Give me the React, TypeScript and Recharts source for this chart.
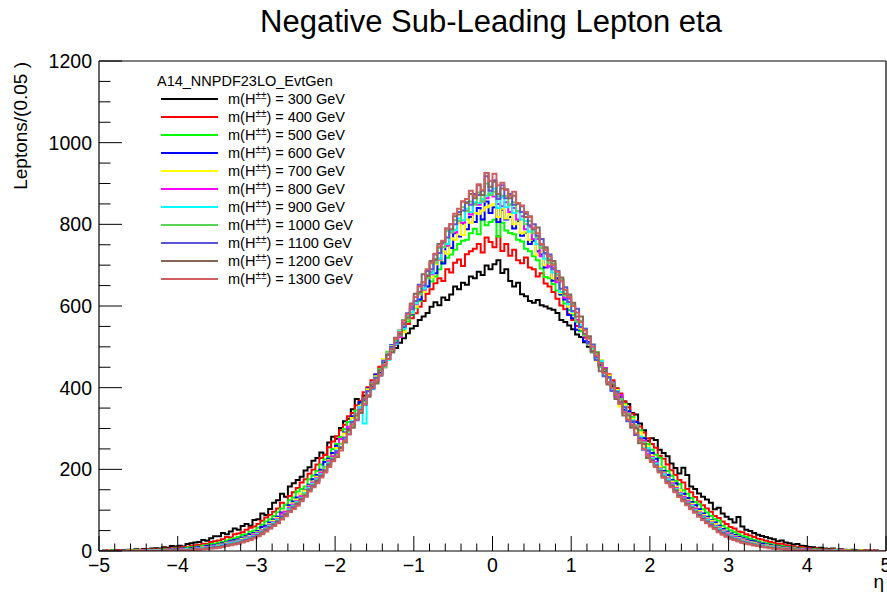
import React from 'react'
import { LineChart, Line, XAxis, YAxis, Legend } from 'recharts'

// Negative sub-leading lepton eta, 200 bins of 0.05 from -5 to 5
const etaMin = -5
const binWidth = 0.05

const massPoints = ['300', '400', '500', '600', '700', '800', '900', '1000', '1100', '1200', '1300']
const lineColors = [
  '#000000', '#ff0000', '#00ff00', '#0000ff', '#ffff00', '#ff00ff',
  '#00ffff', '#59d454', '#5954d9', '#876656', '#cf5e61'
]

const m300 = [
  0, 1, 0, 1, 2, 1, 2, 3, 2, 4, 3, 5, 4, 6, 7, 6, 9, 8, 12, 11,
  13, 11, 17, 19, 21, 22, 27, 25, 31, 36, 36, 44, 41, 48, 55, 52, 61, 66, 62, 76,
  78, 92, 88, 103, 118, 124, 140, 133, 158, 166, 174, 182, 197, 205, 221, 228, 241, 236, 266, 280,
  275, 301, 318, 324, 347, 372, 352, 381, 398, 410, 427, 433, 462, 470, 488, 497, 510, 521, 533, 545,
  551, 566, 574, 583, 598, 609, 602, 621, 615, 628, 648, 641, 657, 652, 672, 668, 684, 676, 699, 690,
  702, 712, 681, 690, 661, 648, 657, 629, 624, 612, 608, 615, 602, 599, 594, 591, 583, 566, 561, 552,
  543, 530, 524, 511, 500, 487, 470, 455, 438, 425, 404, 398, 379, 366, 360, 338, 334, 312, 296, 270,
  276, 272, 248, 240, 232, 214, 203, 190, 204, 186, 158, 152, 141, 133, 126, 118, 102, 106, 92, 84,
  78, 70, 83, 60, 52, 49, 44, 40, 37, 34, 31, 29, 24, 26, 21, 19, 16, 17, 13, 12,
  10, 9, 7, 8, 6, 5, 6, 3, 4, 3, 2, 3, 1, 2, 1, 1, 0, 1, 0, 0
]
const m400 = [
  0, 0, 1, 0, 1, 1, 2, 1, 2, 2, 2, 3, 4, 3, 4, 4, 6, 5, 7, 8,
  8, 10, 9, 13, 14, 15, 18, 17, 22, 24, 26, 29, 34, 33, 41, 43, 46, 52, 57, 60,
  66, 74, 82, 88, 96, 104, 118, 113, 135, 144, 154, 168, 176, 189, 199, 212, 228, 235, 254, 268,
  281, 296, 309, 330, 338, 357, 368, 389, 401, 418, 432, 451, 465, 480, 498, 512, 527, 540, 556, 570,
  582, 598, 612, 630, 641, 656, 668, 661, 690, 682, 706, 714, 698, 727, 734, 740, 752, 731, 768, 757,
  744, 771, 735, 752, 723, 738, 712, 705, 719, 694, 690, 672, 680, 655, 648, 634, 618, 601, 592, 580,
  566, 551, 539, 522, 510, 497, 478, 466, 446, 433, 418, 398, 386, 366, 352, 336, 318, 305, 290, 276,
  262, 253, 233, 226, 212, 198, 186, 174, 168, 152, 144, 132, 121, 112, 104, 96, 86, 81, 72, 66,
  59, 55, 48, 46, 41, 38, 34, 30, 28, 25, 22, 20, 17, 18, 14, 13, 11, 9, 10, 7,
  7, 5, 6, 4, 4, 3, 4, 2, 3, 2, 2, 1, 1, 2, 1, 0, 1, 0, 0, 0
]
const m500 = [
  0, 0, 0, 1, 0, 0, 1, 0, 1, 1, 1, 2, 2, 3, 2, 3, 4, 3, 5, 6,
  5, 7, 8, 9, 10, 11, 13, 14, 17, 18, 20, 22, 26, 28, 31, 34, 39, 41, 47, 50,
  57, 64, 72, 78, 86, 95, 104, 113, 124, 131, 146, 152, 158, 176, 185, 196, 212, 224, 231, 250,
  262, 279, 299, 316, 328, 344, 361, 372, 396, 412, 428, 446, 470, 481, 498, 514, 528, 541, 562, 578,
  596, 612, 635, 648, 660, 672, 690, 708, 718, 726, 738, 752, 760, 762, 778, 789, 776, 812, 798, 806,
  811, 770, 804, 785, 779, 776, 762, 758, 740, 734, 722, 712, 692, 671, 668, 654, 638, 628, 606, 590,
  578, 560, 538, 528, 512, 496, 487, 462, 444, 428, 412, 394, 381, 360, 342, 328, 303, 296, 278, 262,
  248, 236, 228, 206, 196, 184, 172, 164, 149, 140, 130, 120, 114, 102, 94, 86, 78, 74, 62, 56,
  50, 46, 41, 37, 34, 30, 27, 24, 21, 19, 17, 15, 13, 12, 10, 9, 8, 7, 6, 5,
  5, 4, 4, 3, 3, 2, 3, 2, 1, 1, 1, 1, 0, 1, 0, 0, 0, 0, 0, 0
]
const m600 = [
  0, 0, 0, 0, 0, 0, 1, 0, 0, 1, 1, 1, 2, 1, 2, 2, 3, 3, 4, 4,
  4, 6, 5, 7, 8, 9, 10, 12, 13, 15, 16, 19, 21, 24, 27, 29, 33, 36, 41, 44,
  49, 59, 62, 70, 77, 84, 94, 98, 112, 121, 131, 139, 150, 162, 176, 186, 199, 218, 226, 240,
  258, 262, 290, 298, 330, 332, 364, 370, 398, 402, 432, 436, 466, 470, 504, 506, 540, 548, 574, 580,
  612, 616, 642, 648, 682, 680, 716, 704, 748, 742, 778, 770, 802, 788, 818, 806, 840, 812, 856, 828,
  842, 806, 836, 812, 818, 790, 808, 772, 780, 752, 760, 734, 726, 694, 698, 662, 668, 628, 616, 578,
  570, 542, 548, 514, 512, 490, 476, 454, 448, 414, 412, 384, 374, 346, 342, 316, 316, 280, 276, 246,
  240, 226, 206, 196, 186, 174, 166, 150, 140, 130, 120, 112, 102, 92, 84, 76, 70, 62, 54, 48,
  43, 39, 35, 31, 28, 25, 23, 20, 18, 16, 14, 12, 11, 10, 8, 8, 7, 6, 5, 4,
  4, 3, 3, 2, 2, 2, 1, 2, 1, 1, 1, 0, 1, 0, 0, 0, 0, 0, 0, 0
]
const m700 = [
  0, 0, 0, 0, 0, 0, 0, 1, 0, 1, 1, 1, 1, 2, 2, 2, 2, 3, 3, 3,
  3, 4, 5, 5, 6, 7, 9, 10, 11, 13, 14, 16, 19, 21, 23, 26, 30, 33, 37, 41,
  46, 52, 57, 66, 74, 81, 90, 98, 108, 117, 126, 140, 148, 160, 170, 182, 194, 203, 222, 234,
  252, 264, 288, 292, 326, 328, 356, 358, 396, 398, 428, 432, 470, 468, 502, 508, 540, 536, 576, 582,
  598, 628, 634, 668, 670, 702, 712, 734, 728, 766, 762, 803, 774, 812, 804, 828, 826, 834, 842, 846,
  850, 818, 838, 814, 826, 800, 811, 778, 782, 762, 764, 725, 732, 700, 702, 668, 675, 632, 630, 598,
  582, 583, 544, 542, 506, 506, 466, 468, 434, 430, 396, 394, 354, 358, 326, 324, 298, 290, 256, 256,
  234, 216, 206, 192, 180, 170, 158, 150, 134, 124, 116, 106, 98, 88, 80, 74, 66, 58, 50, 45,
  40, 36, 32, 28, 25, 22, 20, 18, 15, 14, 12, 11, 9, 8, 7, 6, 6, 5, 4, 3,
  3, 3, 2, 2, 2, 2, 1, 1, 1, 1, 1, 0, 0, 1, 0, 0, 0, 0, 0, 0
]
const m800 = [
  0, 0, 0, 0, 0, 0, 0, 0, 0, 0, 0, 1, 0, 1, 1, 1, 2, 2, 3, 3,
  3, 4, 5, 5, 6, 7, 8, 9, 11, 12, 13, 15, 17, 20, 22, 24, 27, 31, 35, 39,
  44, 50, 57, 64, 71, 78, 92, 96, 106, 114, 122, 134, 141, 158, 168, 178, 192, 206, 220, 232,
  240, 274, 274, 304, 310, 336, 352, 372, 382, 412, 414, 444, 450, 482, 490, 520, 524, 558, 580, 598,
  604, 630, 640, 672, 678, 712, 714, 753, 748, 780, 780, 808, 804, 834, 824, 850, 848, 856, 864, 872,
  868, 850, 844, 854, 830, 840, 812, 820, 788, 794, 764, 764, 722, 728, 696, 694, 658, 663, 620, 618,
  600, 566, 562, 526, 524, 490, 478, 452, 448, 412, 412, 378, 382, 340, 338, 306, 304, 272, 270, 238,
  230, 218, 202, 190, 178, 166, 154, 142, 132, 122, 112, 104, 94, 86, 78, 70, 62, 56, 48, 43,
  38, 34, 30, 26, 23, 21, 18, 16, 14, 13, 11, 10, 8, 7, 6, 6, 5, 4, 4, 3,
  3, 2, 2, 1, 1, 1, 1, 0, 1, 0, 0, 0, 0, 0, 0, 0, 0, 0, 0, 0
]
const m900 = [
  0, 0, 0, 0, 0, 0, 0, 0, 0, 0, 0, 0, 1, 0, 1, 1, 1, 2, 2, 2,
  2, 3, 4, 4, 5, 6, 7, 8, 10, 11, 12, 14, 16, 19, 21, 23, 26, 30, 33, 37,
  42, 48, 55, 62, 69, 76, 84, 90, 102, 111, 120, 130, 142, 154, 165, 176, 188, 207, 216, 228,
  246, 254, 276, 288, 318, 324, 352, 312, 390, 396, 424, 430, 466, 468, 500, 508, 538, 544, 576, 584,
  606, 632, 642, 676, 680, 716, 716, 758, 752, 784, 786, 814, 810, 838, 830, 854, 852, 862, 870, 876,
  888, 840, 866, 842, 850, 828, 832, 812, 808, 782, 784, 752, 744, 716, 716, 682, 678, 634, 638, 604,
  586, 582, 554, 544, 508, 498, 470, 466, 430, 426, 394, 392, 364, 354, 320, 320, 286, 280, 252, 252,
  228, 214, 200, 188, 176, 162, 152, 140, 128, 118, 110, 100, 92, 84, 76, 68, 60, 54, 46, 40,
  36, 32, 28, 24, 22, 20, 17, 15, 13, 12, 10, 9, 7, 6, 5, 5, 4, 3, 3, 2,
  2, 2, 1, 1, 1, 1, 0, 1, 0, 0, 0, 0, 0, 0, 0, 0, 0, 0, 0, 0
]
const m1000 = [
  0, 0, 0, 0, 0, 0, 0, 0, 0, 0, 0, 0, 0, 0, 0, 0, 1, 0, 1, 1,
  1, 2, 3, 4, 5, 5, 6, 7, 8, 10, 11, 12, 15, 17, 19, 21, 24, 28, 31, 35,
  40, 46, 54, 60, 67, 74, 84, 92, 100, 109, 118, 124, 140, 152, 162, 174, 186, 206, 214, 228,
  236, 262, 268, 294, 306, 334, 340, 366, 380, 410, 412, 444, 450, 488, 490, 520, 528, 566, 568, 602,
  622, 630, 658, 668, 704, 706, 742, 744, 784, 780, 810, 808, 842, 832, 856, 848, 878, 856, 900, 872,
  880, 868, 870, 870, 848, 854, 832, 830, 800, 808, 778, 768, 742, 740, 706, 704, 676, 664, 626, 624,
  604, 562, 564, 528, 524, 488, 480, 450, 446, 410, 410, 382, 372, 338, 336, 304, 308, 268, 266, 232,
  226, 208, 198, 184, 172, 162, 150, 138, 128, 118, 108, 98, 90, 82, 74, 66, 58, 52, 44, 39,
  34, 30, 27, 23, 21, 19, 16, 14, 12, 11, 9, 8, 7, 6, 5, 5, 4, 3, 3, 2,
  2, 2, 1, 1, 1, 1, 0, 1, 0, 0, 0, 0, 0, 0, 0, 0, 0, 0, 0, 0
]
const m1100 = [
  0, 0, 0, 0, 0, 0, 0, 0, 0, 0, 0, 0, 0, 0, 0, 0, 0, 1, 0, 1,
  1, 2, 2, 3, 4, 4, 5, 7, 8, 9, 10, 12, 14, 16, 18, 20, 23, 27, 30, 34,
  39, 45, 52, 58, 65, 72, 85, 90, 98, 107, 116, 126, 134, 150, 160, 172, 184, 198, 212, 224,
  244, 254, 278, 286, 316, 320, 346, 358, 392, 398, 424, 430, 466, 470, 500, 510, 534, 550, 582, 592,
  612, 652, 650, 686, 690, 726, 730, 758, 768, 800, 800, 830, 834, 854, 848, 874, 872, 882, 918, 882,
  908, 862, 896, 864, 874, 848, 852, 830, 826, 798, 800, 772, 764, 730, 726, 690, 686, 642, 646, 610,
  588, 593, 548, 544, 508, 506, 468, 460, 428, 426, 392, 390, 362, 352, 318, 318, 284, 276, 248, 246,
  222, 210, 196, 182, 170, 160, 148, 136, 126, 116, 106, 96, 88, 80, 72, 64, 56, 50, 44, 38,
  33, 29, 26, 22, 20, 18, 16, 13, 11, 10, 8, 7, 6, 5, 4, 4, 3, 3, 2, 2,
  2, 1, 1, 1, 1, 1, 0, 0, 0, 0, 0, 0, 0, 0, 0, 0, 0, 0, 0, 0
]
const m1200 = [
  0, 0, 0, 0, 0, 0, 0, 0, 0, 0, 0, 0, 0, 0, 0, 0, 1, 0, 1, 1,
  1, 2, 2, 3, 4, 4, 5, 6, 7, 8, 9, 11, 13, 15, 17, 19, 22, 25, 28, 32,
  37, 44, 50, 56, 63, 70, 79, 88, 96, 105, 114, 128, 136, 148, 158, 170, 182, 196, 210, 222,
  230, 252, 266, 296, 302, 332, 338, 374, 378, 408, 410, 442, 454, 480, 486, 522, 530, 556, 572, 606,
  630, 634, 678, 674, 710, 714, 752, 758, 790, 788, 820, 824, 856, 852, 874, 864, 896, 872, 926, 892,
  904, 874, 888, 886, 864, 870, 850, 844, 818, 820, 788, 792, 750, 744, 712, 710, 664, 670, 630, 628,
  608, 574, 574, 532, 526, 490, 486, 440, 446, 408, 408, 372, 366, 332, 332, 302, 300, 264, 262, 228,
  220, 208, 194, 180, 168, 158, 146, 134, 124, 114, 104, 94, 86, 78, 70, 62, 55, 48, 42, 36,
  31, 28, 24, 21, 19, 17, 14, 12, 10, 9, 8, 7, 6, 5, 4, 4, 3, 3, 2, 2,
  2, 1, 1, 1, 0, 1, 0, 0, 0, 0, 0, 0, 0, 0, 0, 0, 0, 0, 0, 0
]
const m1300 = [
  0, 0, 0, 0, 0, 0, 0, 0, 0, 0, 0, 0, 0, 0, 0, 0, 0, 1, 0, 1,
  1, 1, 2, 2, 3, 3, 4, 5, 6, 7, 8, 10, 12, 14, 16, 18, 21, 24, 27, 31,
  36, 41, 48, 55, 61, 68, 77, 85, 96, 103, 111, 122, 133, 146, 156, 166, 180, 192, 206, 220,
  232, 246, 270, 286, 310, 322, 344, 360, 382, 400, 418, 430, 456, 470, 494, 520, 536, 564, 580, 604,
  622, 648, 658, 690, 706, 728, 746, 760, 790, 800, 826, 838, 856, 862, 882, 870, 898, 884, 926, 906,
  924, 896, 902, 884, 870, 880, 852, 846, 830, 818, 792, 778, 752, 738, 722, 700, 684, 660, 640, 622,
  600, 584, 560, 540, 520, 500, 478, 460, 436, 414, 400, 384, 360, 340, 322, 310, 288, 272, 250, 234,
  218, 206, 192, 180, 166, 156, 144, 132, 122, 112, 102, 94, 84, 76, 68, 60, 54, 46, 40, 35,
  30, 27, 24, 20, 18, 16, 14, 12, 10, 9, 7, 6, 5, 4, 3, 3, 2, 2, 1, 1,
  1, 1, 0, 1, 0, 0, 0, 0, 0, 0, 0, 0, 0, 0, 0, 0, 0, 0, 0, 0
]

const seriesValues = [m300, m400, m500, m600, m700, m800, m900, m1000, m1100, m1200, m1300]

const xMajorTicks = [-5, -4, -3, -2, -1, 0, 1, 2, 3, 4, 5]
const yMajorTicks = [0, 200, 400, 600, 800, 1000, 1200]

const nBins = m300.length
// one row per bin low edge, plus the upper edge so the last step closes
const chartData = Array.from({ length: nBins + 1 }, (_, i) => {
  const row: any = { eta: +(etaMin + i * binWidth).toFixed(3) }
  seriesValues.forEach((vals, k) => {
    row['m' + massPoints[k]] = vals[Math.min(i, nBins - 1)] ?? 0
  })
  return row
})

const xTicks = xMajorTicks.slice(0, -1).flatMap((v) => [0, 0.2, 0.4, 0.6, 0.8].map((d) => +(v + d).toFixed(2))).concat([5])
const yTicks = yMajorTicks.slice(0, -1).flatMap((v) => [0, 50, 100, 150].map((d) => v + d)).concat([1200])

const W = 887
const H = 594
const M = { top: 60, right: 0, bottom: 42, left: 98 }
const plotBottom = 551
const plotLeft = 99
const font = "'Liberation Sans', Arial, Helvetica, sans-serif"

const fmt = (v: number) => (v < 0 ? '\u2212' + Math.abs(v) : String(v))

const XTick = (props: any) => {
  const { x, payload } = props
  const v = payload.value
  const major = Math.abs(v - Math.round(v)) < 1e-6
  const len = major ? 15 : 7.5
  return (
    <g>
      <line x1={x} x2={x} y1={plotBottom} y2={plotBottom - len} stroke='#000' strokeWidth={1} />
      {major && (
        <text x={x} y={plotBottom + 21} textAnchor='middle' fontSize={19.5} fontFamily={font} fill='#000'>
          {fmt(v)}
        </text>
      )}
    </g>
  )
}

const YTick = (props: any) => {
  const { y, payload } = props
  const v = payload.value
  const major = v % 200 === 0
  const len = major ? 23 : 11.5
  return (
    <g>
      <line x1={plotLeft} x2={plotLeft + len} y1={y} y2={y} stroke='#000' strokeWidth={1} />
      {major && (
        <text x={plotLeft - 7} y={y + 7} textAnchor='end' fontSize={19.5} fontFamily={font} fill='#000'>
          {v}
        </text>
      )}
    </g>
  )
}

const LegendBox = () => (
  <div style={{ fontFamily: font, fontSize: 14.5, color: '#000', lineHeight: '18px', width: 230 }}>
    <div style={{ height: 18 }}>A14_NNPDF23LO_EvtGen</div>
    {massPoints.map((m, k) => (
      <div key={m} style={{ display: 'flex', alignItems: 'center', height: 18 }}>
        <div style={{ width: 57, height: 2, background: lineColors[k], marginLeft: 4, marginRight: 10 }} />
        <span>
          m(H<sup style={{ fontSize: 10, verticalAlign: 5, lineHeight: 0 }}>{'\u00b1\u00b1'}</sup>) = {m} GeV
        </span>
      </div>
    ))}
  </div>
)

export default function App() {
  return (
    <div style={{ position: 'absolute', left: 0, top: 0, width: W, height: H, background: '#fff' }}>
      <div
        style={{
          position: 'absolute', left: 0, width: W, top: 4, textAlign: 'center',
          fontFamily: font, fontSize: 31, color: '#000', paddingLeft: 95, boxSizing: 'border-box'
        }}
      >
        Negative Sub-Leading Lepton eta
      </div>
      <LineChart width={W} height={H} data={chartData} margin={M} style={{ position: 'absolute', left: 0, top: 0 }}>
        <XAxis
          xAxisId='b'
          dataKey='eta'
          type='number'
          domain={[-5, 5]}
          ticks={xTicks}
          interval={0}
          height={1}
          tickSize={0}
          tickMargin={0}
          tickLine={false}
          tick={(p: any) => <XTick {...p} />}
          axisLine={{ stroke: '#000', strokeWidth: 1.2 }}
          allowDataOverflow
        />
        <XAxis
          xAxisId='t'
          orientation='top'
          dataKey='eta'
          type='number'
          domain={[-5, 5]}
          height={1}
          tick={false}
          tickLine={false}
          axisLine={{ stroke: '#000', strokeWidth: 1.2 }}
        />
        <YAxis
          yAxisId='l'
          type='number'
          domain={[0, 1200]}
          ticks={yTicks}
          interval={0}
          width={1}
          tickSize={0}
          tickMargin={0}
          tickLine={false}
          tick={(p: any) => <YTick {...p} />}
          axisLine={{ stroke: '#000', strokeWidth: 1.2 }}
          allowDataOverflow
        />
        <YAxis
          yAxisId='r'
          orientation='right'
          type='number'
          domain={[0, 1200]}
          width={1}
          tick={false}
          tickLine={false}
          axisLine={{ stroke: '#000', strokeWidth: 1.2 }}
        />
        <Legend
          layout='vertical'
          align='center'
          verticalAlign='middle'
          wrapperStyle={{ left: 157, top: 72, width: 230 }}
          content={() => <LegendBox />}
        />
        {massPoints.map((m, k) => (
          <Line
            key={m}
            xAxisId='b'
            yAxisId='l'
            type='stepAfter'
            dataKey={'m' + m}
            name={'m(H\u00b1\u00b1) = ' + m + ' GeV'}
            stroke={lineColors[k]}
            strokeWidth={2}
            dot={false}
            activeDot={false}
            isAnimationActive={false}
          />
        ))}
      </LineChart>
      <svg width={W} height={H} style={{ position: 'absolute', left: 0, top: 0, pointerEvents: 'none' }}>
        <text transform='translate(27,62) rotate(-90)' textAnchor='end' fontSize={19} fontFamily={font} fill='#000'>
          Leptons/(0.05 )
        </text>
        <text x={884} y={588} textAnchor='end' fontSize={19} fontFamily={font} fill='#000'>
          {'\u03b7'}
        </text>
      </svg>
    </div>
  )
}
